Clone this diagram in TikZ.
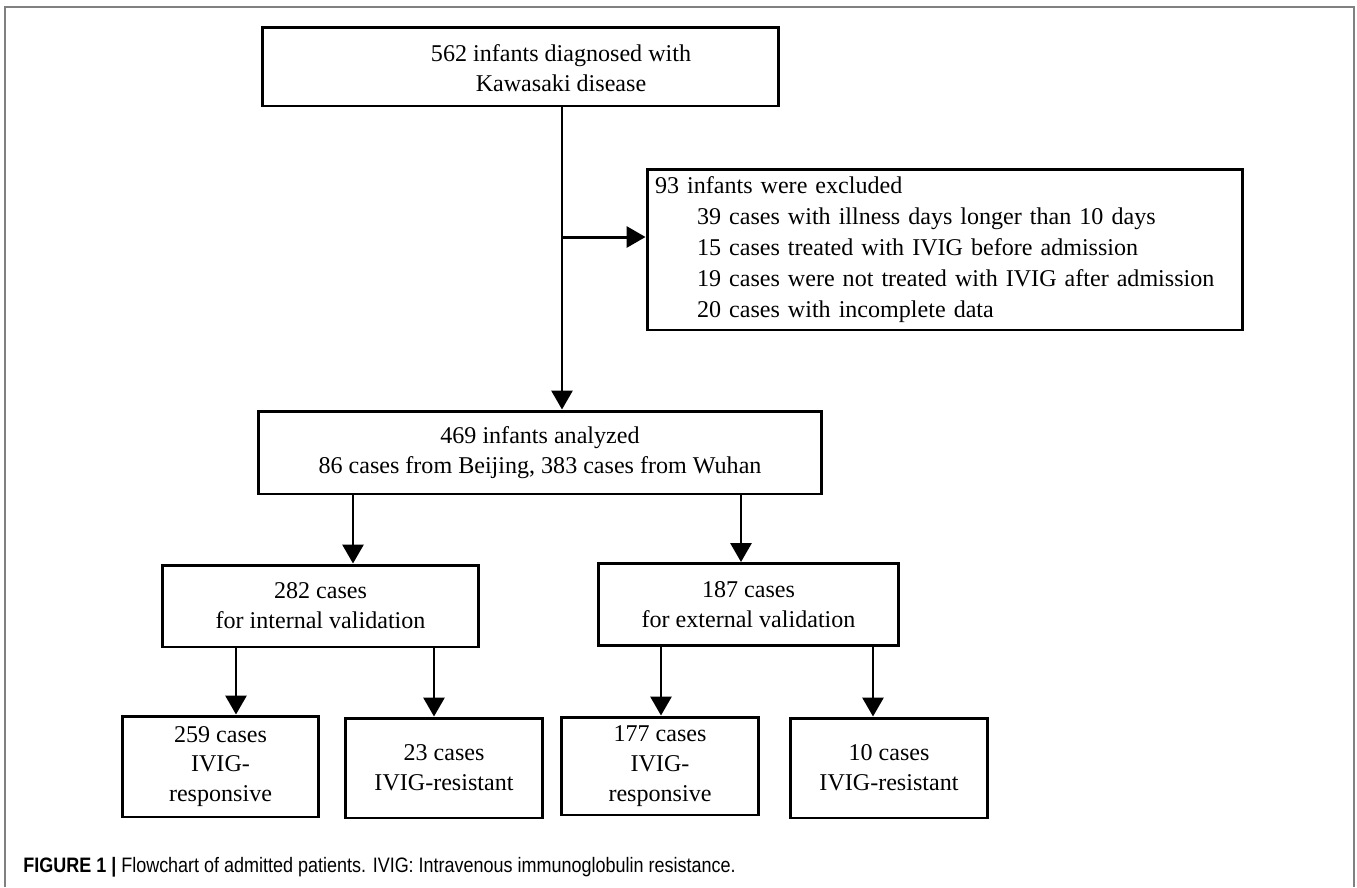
\documentclass[tikz,border=0pt]{standalone}
\usepackage{fontspec}
\setmainfont{Liberation Serif}
\newfontfamily\capfont[FakeStretch=0.86]{Liberation Sans}
\usepackage{tikz}
\usetikzlibrary{arrows.meta}
\definecolor{framegray}{RGB}{128,128,128}

\begin{document}
\begin{tikzpicture}[x=0.02cm, y=-0.02cm,
	box/.style={draw, line width=1.7pt, inner sep=0pt, align=center, font=\fontsize{13.7}{17}\selectfont},
	arr/.style={line width=1.7pt, -{Triangle[length=0.38cm, width=0.42cm]}}]
			%%%%% START %%%%%
			
			\useasboundingbox (0, 0) rectangle (1357, 887);
			\draw[framegray, line width=1.1pt] (5, 887) -- (5, 7) -- (1354, 7) -- (1354, 887);
			
			\node[box, minimum width=10.34cm, minimum height=1.58cm] (kd) at (520.5, 66.5) {};
			\node[align=center, font=\fontsize{13.7}{17.4}\selectfont] (kdtext) at (561, 68) {562 infants diagnosed with\\Kawasaki disease};
			
			\node[box, minimum width=11.92cm, minimum height=3.22cm, text width=11.6cm, inner xsep=0.16cm, align=left, font=\fontsize{13.7}{17.6}\selectfont] (excl) at (945, 249.5) {93 infants were excluded\\
				\hspace*{0.84cm}39 cases with illness days longer than 10 days\\
				\hspace*{0.84cm}15 cases treated with IVIG before admission\\
				\hspace*{0.84cm}19 cases were not treated with IVIG after admission\\
				\hspace*{0.84cm}20 cases with incomplete data};
			
			\node[box, minimum width=11.28cm, minimum height=1.66cm] (all) at (540, 452.5) {469 infants analyzed\\86 cases from Beijing, 383 cases from Wuhan};
			
			\node[box, minimum width=6.34cm, minimum height=1.64cm] (internal) at (320.5, 606) {282 cases\\for internal validation};
			\node[box, minimum width=6.02cm, minimum height=1.64cm] (external) at (748.5, 604.5) {187 cases\\for external validation};
			
			\node[box, minimum width=3.94cm, minimum height=2.02cm] (intresp) at (220.5, 766.5) {259 cases\\IVIG-\\responsive};
			\node[box, minimum width=3.96cm, minimum height=2.0cm] (intres) at (444, 768) {23 cases\\IVIG-resistant};
			\node[box, minimum width=3.94cm, minimum height=1.96cm] (extresp) at (660, 766) {177 cases\\IVIG-\\responsive};
			\node[box, minimum width=3.96cm, minimum height=2.0cm] (extres) at (889, 768) {10 cases\\IVIG-resistant};
			
			% x positions of the arrows
			\coordinate (xmain) at (562, 0);
			\coordinate (branch) at (562, 237);
			\coordinate (xint) at (353, 0);
			\coordinate (xext) at (741, 0);
			\coordinate (xa) at (236, 0);
			\coordinate (xb) at (434, 0);
			\coordinate (xc) at (661, 0);
			\coordinate (xd) at (873, 0);
			
			\draw[arr] (kd.south -| xmain) -- (all.north -| xmain);
			\draw[arr] (branch) -- (branch -| excl.west);
			\draw[arr] (all.south -| xint) -- (internal.north -| xint);
			\draw[arr] (all.south -| xext) -- (external.north -| xext);
			\draw[arr] (internal.south -| xa) -- (intresp.north -| xa);
			\draw[arr] (internal.south -| xb) -- (intres.north -| xb);
			\draw[arr] (external.south -| xc) -- (extresp.north -| xc);
			\draw[arr] (external.south -| xd) -- (extres.north -| xd);
			
			\node[anchor=base west, inner sep=0pt, font=\capfont\fontsize{11.9}{14}\selectfont] (caption) at (23, 872) {\textbf{FIGURE 1 |} Flowchart of admitted patients. IVIG: Intravenous immunoglobulin resistance.};
			
			%%%%% END %%%%%
		\end{tikzpicture}
\end{document}
